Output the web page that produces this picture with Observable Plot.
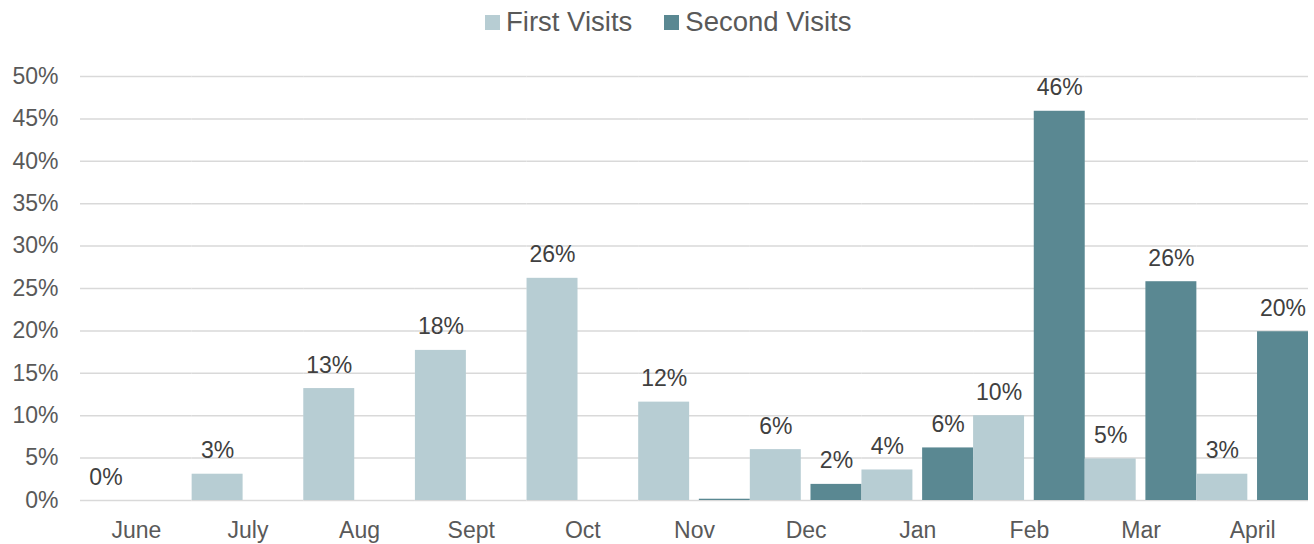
<!DOCTYPE html>
<html>
<head>
<meta charset="utf-8">
<script src="https://cdn.jsdelivr.net/npm/d3@7"></script>
<script src="https://cdn.jsdelivr.net/npm/@observablehq/plot@0.6"></script>
<style>
  html, body { margin: 0; padding: 0; background: #fff; }
  body { width: 1314px; height: 544px; overflow: hidden; font-family: "Liberation Sans", Arial, sans-serif; }
  #legend { height: 44px; display: flex; align-items: center; padding-left: 485px; box-sizing: border-box; color: #595959; font-size: 27.5px; }
  .item { display: flex; align-items: center; margin-right: 32px; }
  .sw { width: 15px; height: 15px; margin-right: 6px; }
</style>
</head>
<body>
<div id="legend"></div>
<div id="chart"></div>
<script>
const months = ["June", "July", "Aug", "Sept", "Oct", "Nov", "Dec", "Jan", "Feb", "Mar", "April"];
const seriesNames = ["First Visits", "Second Visits"];
const seriesColors = ["#b7cdd3", "#5a8892"];
const firstVisits = [0, 3.1, 13.2, 17.7, 26.2, 11.6, 6.0, 3.6, 10.0, 4.9, 3.1];
const secondVisits = [null, null, null, null, null, 0.15, 1.9, 6.2, 45.9, 25.8, 19.9];
const secondLabelled = [false, false, false, false, false, false, true, true, true, true, true];
const yTicks = [0, 5, 10, 15, 20, 25, 30, 35, 40, 45, 50];

const data = [];
const labels = [];
months.forEach((m, i) => {
  data.push({month: m, series: seriesNames[0], value: firstVisits[i]});
  labels.push({month: m, series: seriesNames[0], value: firstVisits[i]});
  if (secondVisits[i] != null) {
    data.push({month: m, series: seriesNames[1], value: secondVisits[i]});
    if (secondLabelled[i]) labels.push({month: m, series: seriesNames[1], value: secondVisits[i]});
  }
});

const legend = document.getElementById("legend");
seriesNames.forEach((s, i) => {
  const it = document.createElement("div");
  it.className = "item";
  const sw = document.createElement("div");
  sw.className = "sw";
  sw.style.background = seriesColors[i];
  const tx = document.createElement("span");
  tx.textContent = s;
  it.appendChild(sw); it.appendChild(tx);
  legend.appendChild(it);
});

const chart = Plot.plot({
  width: 1314,
  height: 500,
  marginLeft: 80,
  marginRight: 6,
  marginTop: 32,
  marginBottom: 44,
  style: {fontFamily: "'Liberation Sans', Arial, sans-serif", fontSize: "23px", color: "#595959", background: "#fff"},
  fx: {domain: months, padding: 0, round: false, label: null, tickSize: 0, tickPadding: 21, axis: "bottom"},
  x: {domain: seriesNames, paddingInner: 0.16, paddingOuter: 0, round: false, axis: null},
  y: {domain: [0, 50], ticks: yTicks, tickFormat: d => d + "%", label: null, tickSize: 0, tickPadding: 22},
  color: {domain: seriesNames, range: seriesColors},
  marks: [
    Plot.gridY(yTicks, {stroke: "#d9d9d9", strokeOpacity: 1, strokeWidth: 1.5}),
    Plot.barY(data, {fx: "month", x: "series", y: "value", fill: "series"}),
    Plot.text(labels, {fx: "month", x: "series", y: "value", text: d => Math.round(d.value) + "%", dy: -16, lineAnchor: "bottom", fill: "#404040", fontSize: 23})
  ]
});
document.getElementById("chart").appendChild(chart);
</script>
</body>
</html>
